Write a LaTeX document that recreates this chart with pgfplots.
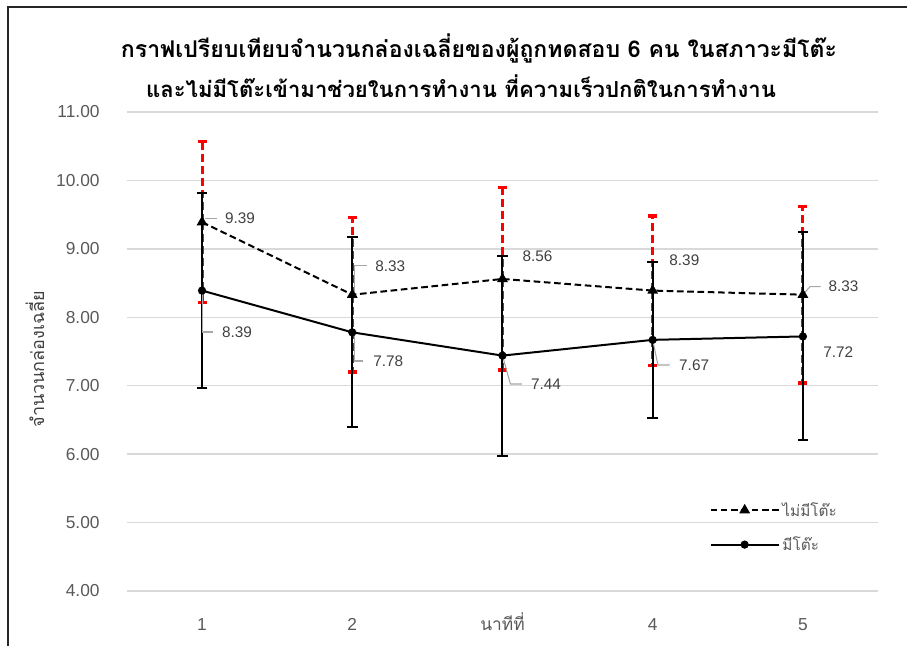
\documentclass[border=0pt]{standalone}
\usepackage{pgfplots}
\pgfplotsset{compat=1.18}
\usepackage{pgfplotstable}
\usepackage{fontspec}
\setmainfont{Liberation Sans}
\newfontfamily\thai[Script=Thai]{Loma}
\definecolor{ticktxt}{HTML}{595959}
\definecolor{lbltxt}{HTML}{404040}
\definecolor{gridc}{HTML}{D9D9D9}
\definecolor{leader}{HTML}{A6A6A6}
\definecolor{errred}{HTML}{FF0000}

% mean boxes per minute, with the spread drawn as error bars
\pgfplotstableread{
x y e
1 9.39 1.18
2 8.33 1.13
3 8.56 1.33
4 8.39 1.09
5 8.33 1.29
}\notable
\pgfplotstableread{
x y e
1 8.39 1.42
2 7.78 1.39
3 7.44 1.46
4 7.67 1.14
5 7.72 1.52
}\withtable

\begin{document}
\begin{tikzpicture}[x=0.75pt,y=0.75pt]
\useasboundingbox (0,0) rectangle (907,646);
\draw[line width=1.3pt, black!85] (8,0) -- (8,639) -- (907,639);
\node[font=\thai\bfseries\fontsize{17.3}{20}\selectfont] at (479,598)
  {กราฟเปรียบเทียบจำนวนกล่องเฉลี่ยของผู้ถูกทดสอบ 6 คน ในสภาวะมีโต๊ะ};
\node[font=\thai\bfseries\fontsize{16.6}{20}\selectfont] at (461,560)
  {และไม่มีโต๊ะเข้ามาช่วยในการทำงาน ที่ความเร็วปกติในการทำงาน};
\node[font=\thai\fontsize{13.5}{16}\selectfont, text=lbltxt, rotate=90] at (35,287)
  {จำนวนกล่องเฉลี่ย};
\begin{axis}[
  at={(95.2pt,41.25pt)}, anchor=south west,
  scale only axis, width=563.3pt, height=359.25pt,
  xmin=0.5, xmax=5.5, ymin=4, ymax=11,
  xtick={1,2,3,4,5}, xticklabels={1,2,{\thai นาทีที่},4,5},
  ytick={4,5,6,7,8,9,10,11},
  axis line style={draw=none},
  major tick length=0pt,
  ymajorgrids, grid style={gridc, line width=1pt},
  /pgf/number format/assume math mode=true,
  yticklabel={\pgfmathprintnumber[fixed, fixed zerofill, precision=2]{\tick}},
  ticklabel style={font=\fontsize{13}{15}\selectfont, text=ticktxt},
  yticklabel style={xshift=-17pt},
  xticklabel style={anchor=base, yshift=-30pt},
  clip=false,
  legend style={at={(rel axis cs:0.77,0.197)}, anchor=north west, draw=none, fill=none,
    font=\thai\fontsize{11.5}{13}\selectfont, text=ticktxt, row sep=10pt,
    every odd column/.style={column sep=0pt}},
  legend cell align=left,
  legend image code/.code={
    \draw[mark repeat=2, mark phase=2, #1] plot coordinates {(0cm,0cm) (0.9cm,0cm) (1.8cm,0cm)};
  },
  legend style={every even column/.style={column sep=3pt}},
]
% without the table: dashed line, red dashed error bars
\addplot[black, line width=1.5pt, dash pattern=on 5pt off 2.7pt,
  mark=triangle*, mark size=3.2pt, mark options={solid, fill=black},
  error bars/.cd, y dir=both, y explicit,
  error bar style={errred, line width=2.3pt, dash pattern=on 6pt off 3pt},
  error mark options={rotate=90, errred, mark size=3.4pt, line width=2.3pt, solid}]
  table[x=x, y=y, y error=e] {\notable};
\addlegendentry{ไม่มีโต๊ะ}
% with the table: solid line, black error bars
\addplot[black, line width=1.5pt,
  mark=*, mark size=2.3pt, mark options={solid, fill=black},
  error bars/.cd, y dir=both, y explicit,
  error bar style={black, line width=1.5pt, solid},
  error mark options={rotate=90, black, mark size=4pt, line width=1.5pt, solid}]
  table[x=x, y=y, y error=e] {\withtable};
\addlegendentry{มีโต๊ะ}

% leader lines for the value labels
\begin{scope}[leader, line width=0.8pt]
\draw (axis cs:1.02,9.45) -- (axis cs:1.10,9.45);
\draw (axis cs:1.005,8.39) -- (axis cs:1.005,7.785) -- (axis cs:1.073,7.785);
\draw (axis cs:2.015,8.33) -- (axis cs:2.015,8.75) -- (axis cs:2.10,8.75);
\draw (axis cs:2.015,7.78) -- (axis cs:2.015,7.361) -- (axis cs:2.073,7.361);
\draw (axis cs:3.0,7.44) -- (axis cs:3.053,7.025) -- (axis cs:3.13,7.025);
\draw (axis cs:4.0,7.67) -- (axis cs:4.035,7.303) -- (axis cs:4.113,7.303);
\draw (axis cs:5.0,8.33) -- (axis cs:5.047,8.447) -- (axis cs:5.118,8.447);
\end{scope}
% value labels
\begin{scope}[every node/.style={font=\fontsize{11.5}{13}\selectfont, text=lbltxt}]
\node at (axis cs:1.253,9.451) {9.39};
\node at (axis cs:1.233,7.785) {8.39};
\node at (axis cs:2.253,8.750) {8.33};
\node at (axis cs:2.240,7.361) {7.78};
\node at (axis cs:3.233,8.896) {8.56};
\node at (axis cs:3.290,7.025) {7.44};
\node at (axis cs:4.211,8.827) {8.39};
\node at (axis cs:4.276,7.303) {7.67};
\node at (axis cs:5.270,8.447) {8.33};
\node at (axis cs:5.236,7.497) {7.72};
\end{scope}
\end{axis}
\end{tikzpicture}
\end{document}
